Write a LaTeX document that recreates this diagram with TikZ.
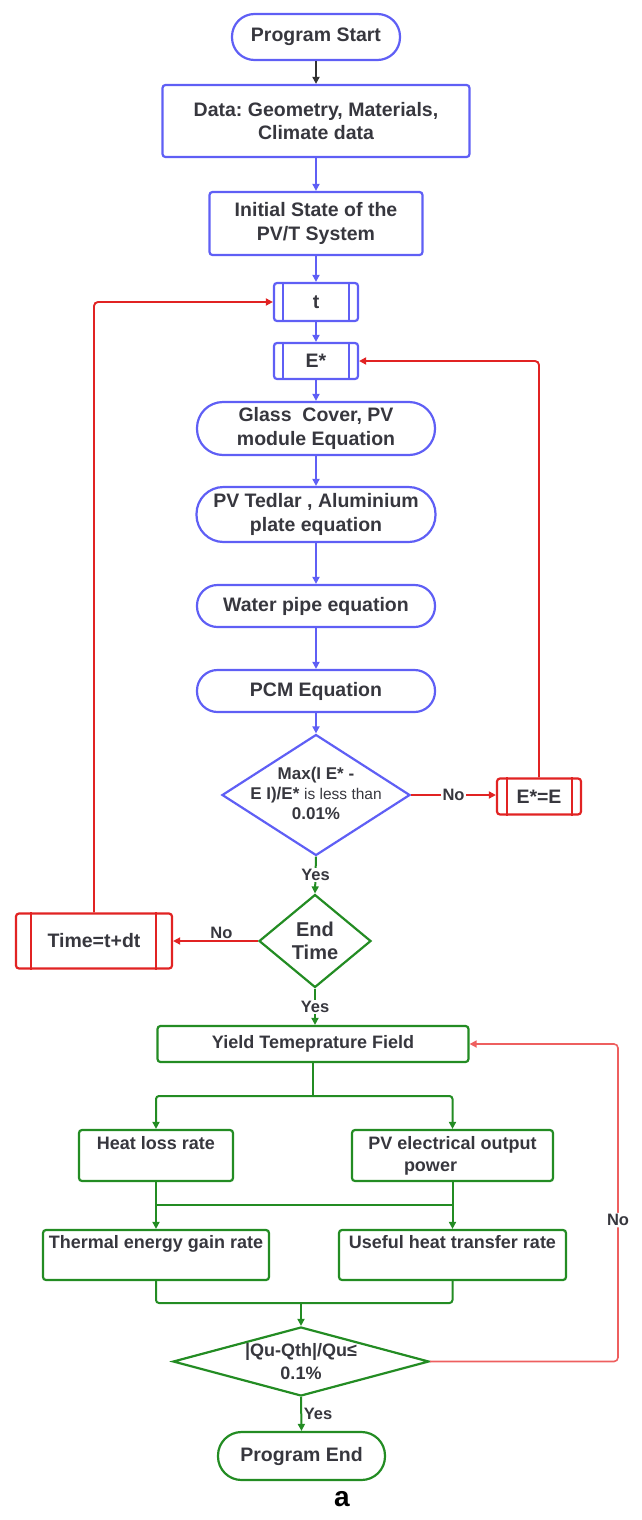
\documentclass[tikz,border=0pt]{standalone}
\usepackage{fontspec}
\setmainfont{Liberation Sans}
\usetikzlibrary{shapes.geometric,arrows.meta}
\definecolor{bl}{RGB}{95,95,245}
\definecolor{rd}{RGB}{225,35,35}
\definecolor{rdl}{RGB}{238,95,95}
\definecolor{gr}{RGB}{35,140,35}
\definecolor{tx}{RGB}{55,55,62}
\definecolor{dk}{RGB}{50,50,50}
\newcommand{\fsz}[2]{\fontsize{#1}{#2}\selectfont}
\frenchspacing
\begin{document}
\begin{tikzpicture}[x=1pt,y=-1pt,
  box/.style={draw, line width=2.2pt, rounded corners=3pt, text=tx, align=center, inner sep=0pt, font=\bfseries\fsz{19.5}{23.5}},
  bbox/.style={box, draw=bl},
  rbox/.style={box, draw=rd},
  gbox/.style={box, draw=gr, font=\bfseries\fsz{18}{22}},
  dia/.style={diamond, draw, line width=2.2pt, inner sep=0pt},
  txt/.style={text=tx, align=center, inner sep=0pt, font=\bfseries\fsz{17}{20}},
  lab/.style={text=tx, inner sep=1.5pt, font=\bfseries\fsz{16.5}{20}},
  tip/.style={-{Triangle[length=7pt,width=7pt]}},
  ak/.style={draw=dk, line width=1.8pt, tip},
  ab/.style={draw=bl, line width=1.8pt, tip},
  ar/.style={draw=rd, line width=1.9pt, tip},
  ar2/.style={draw=rdl, line width=1.6pt, tip},
  ag/.style={draw=gr, line width=2pt, tip},
  gl/.style={draw=gr, line width=2pt},
  bars/.style={line width=2pt}
]
\useasboundingbox (0,0) rectangle (642,1520);

% ---------- nodes ----------
\node[bbox, rounded corners=22.5pt, minimum width=168pt, minimum height=46pt] (start) at (316,37) {Program Start};
\node[bbox, minimum width=307pt, minimum height=72pt] (data) at (316,121) {Data: Geometry, Materials,\\Climate data};
\node[bbox, minimum width=213pt, minimum height=63pt] (init) at (316,223.5) {Initial State of the\\PV/T System};
\node[bbox, minimum width=84pt, minimum height=38pt] (t) at (316,302) {t};
\node[bbox, minimum width=84pt, minimum height=36pt] (estar) at (316,361) {E*};
\node[bbox, rounded corners=26pt, minimum width=238pt, minimum height=53pt] (glass) at (316,428.5) {Glass~ Cover, PV\\module Equation};
\node[bbox, rounded corners=27pt, minimum width=239pt, minimum height=55pt] (tedlar) at (316,514.5) {PV Tedlar , Aluminium\\plate equation};
\node[bbox, rounded corners=20.5pt, minimum width=238pt, minimum height=42pt] (water) at (316,606) {Water pipe equation};
\node[bbox, rounded corners=20.5pt, minimum width=238pt, minimum height=42pt] (pcm) at (316,691) {PCM Equation};
\node[dia, draw=bl, minimum width=188pt, minimum height=121pt] (d1) at (316,795) {};
\node[txt] (d1t) at (316,793) {Max(I E* -\\E I)/E* {\mdseries\fsz{15.5}{20}is less than}\\0.01\%};
\node[rbox, minimum width=84pt, minimum height=36pt] (ee) at (539,796.5) {E*=E};
\node[dia, draw=gr, minimum width=112pt, minimum height=93pt] (d2) at (315,941) {};
\node[txt, font=\bfseries\fsz{20}{23}] (d2t) at (315,940.5) {End\\Time};
\node[rbox, minimum width=156pt, minimum height=55pt] (time) at (94,941) {Time=t+dt};
\node[gbox, minimum width=311pt, minimum height=36pt] (yield) at (313,1044) {Yield Temeprature Field};
\node[gbox, minimum width=154pt, minimum height=51pt] (heat) at (156,1155.5) {Heat loss rate\\\phantom{Hg}};
\node[gbox, minimum width=201pt, minimum height=51pt] (pv) at (452.5,1155.5) {PV electrical output\\power\hspace{44pt}\mbox{}};
\node[gbox, minimum width=226pt, minimum height=50pt] (thermal) at (156,1255) {Thermal energy gain rate\\\phantom{Hg}};
\node[gbox, minimum width=227pt, minimum height=50pt] (useful) at (452.5,1255) {Useful heat transfer rate\\\phantom{Hg}};
\node[dia, draw=gr, minimum width=256pt, minimum height=69pt] (d3) at (301,1361.5) {};
\node[txt, font=\bfseries\fsz{18}{23}] (d3t) at (301,1361.5) {|Qu-Qth|/Qu≤\\0.1\%};
\node[gbox, font=\bfseries\fsz{19.5}{23.5}, rounded corners=23.5pt, minimum width=167pt, minimum height=48pt] (end) at (301.5,1456) {Program End};
\node[font=\bfseries\fsz{28}{30}, text=black, inner sep=0pt] (cap) at (342,1499) {a};

% ---------- inner bars of process boxes ----------
\draw[bl, bars] ([xshift=10pt]t.north west) -- ([xshift=10pt]t.south west);
\draw[bl, bars] ([xshift=-10pt]t.north east) -- ([xshift=-10pt]t.south east);
\draw[bl, bars] ([xshift=10pt]estar.north west) -- ([xshift=10pt]estar.south west);
\draw[bl, bars] ([xshift=-10pt]estar.north east) -- ([xshift=-10pt]estar.south east);
\draw[rd, bars] ([xshift=11pt]ee.north west) -- ([xshift=11pt]ee.south west);
\draw[rd, bars] ([xshift=-10pt]ee.north east) -- ([xshift=-10pt]ee.south east);
\draw[rd, bars] ([xshift=16pt]time.north west) -- ([xshift=16pt]time.south west);
\draw[rd, bars] ([xshift=-17pt]time.north east) -- ([xshift=-17pt]time.south east);

% ---------- coordinates ----------
\coordinate (b1) at (313,1096);
\coordinate (m1) at (0,1205);
\coordinate (m2) at (0,1303);
\coordinate (c1) at (618,1361.5);
\coordinate (c2) at (618,1044);

% ---------- connectors ----------
\draw[ak] (start) -- (data);
\draw[ab] (data) -- (init);
\draw[ab] (init) -- (t);
\draw[ab] (t) -- (estar);
\draw[ab] (estar) -- (glass);
\draw[ab] (glass) -- (tedlar);
\draw[ab] (tedlar) -- (water);
\draw[ab] (water) -- (pcm);
\draw[ab] (pcm) -- (d1);

\draw[ar] (d1.east) -- node[lab, fill=white] {No} (d1.east -| ee.west);
\draw[ar, rounded corners=4pt] (ee.north) |- (estar.east);
\draw[ag] (d1.south) -- node[lab, fill=white] {Yes} (d2.north);
\draw[ar] (d2.west) -- node[lab, above, pos=0.43] {No} (time.east);
\draw[ar, rounded corners=4pt] (time.north) |- (t.west);
\draw[ag] (d2.south) -- node[lab, fill=white] {Yes} (d2.south |- yield.north);

\draw[gl] (yield.south) -- (b1);
\draw[ag, rounded corners=3pt] (b1) -| (heat.north);
\draw[ag, rounded corners=3pt] (b1) -| (pv.north);
\draw[ag] (heat.south) -- (thermal.north);
\draw[ag] (pv.south) -- (useful.north);
\draw[gl] (heat.south |- m1) -- (pv.south |- m1);
\draw[gl, rounded corners=3pt] (thermal.south) |- (d3.north |- m2) -| (useful.south);
\draw[ag] (d3.north |- m2) -- (d3.north);
\draw[ag] (d3.south) -- node[lab, right] {Yes} (end.north);
\draw[ar2, rounded corners=4pt] (d3.east) -- (c1) -- node[lab, fill=white, pos=0.445] {No} (c2) -- (yield.east);
\end{tikzpicture}
\end{document}
